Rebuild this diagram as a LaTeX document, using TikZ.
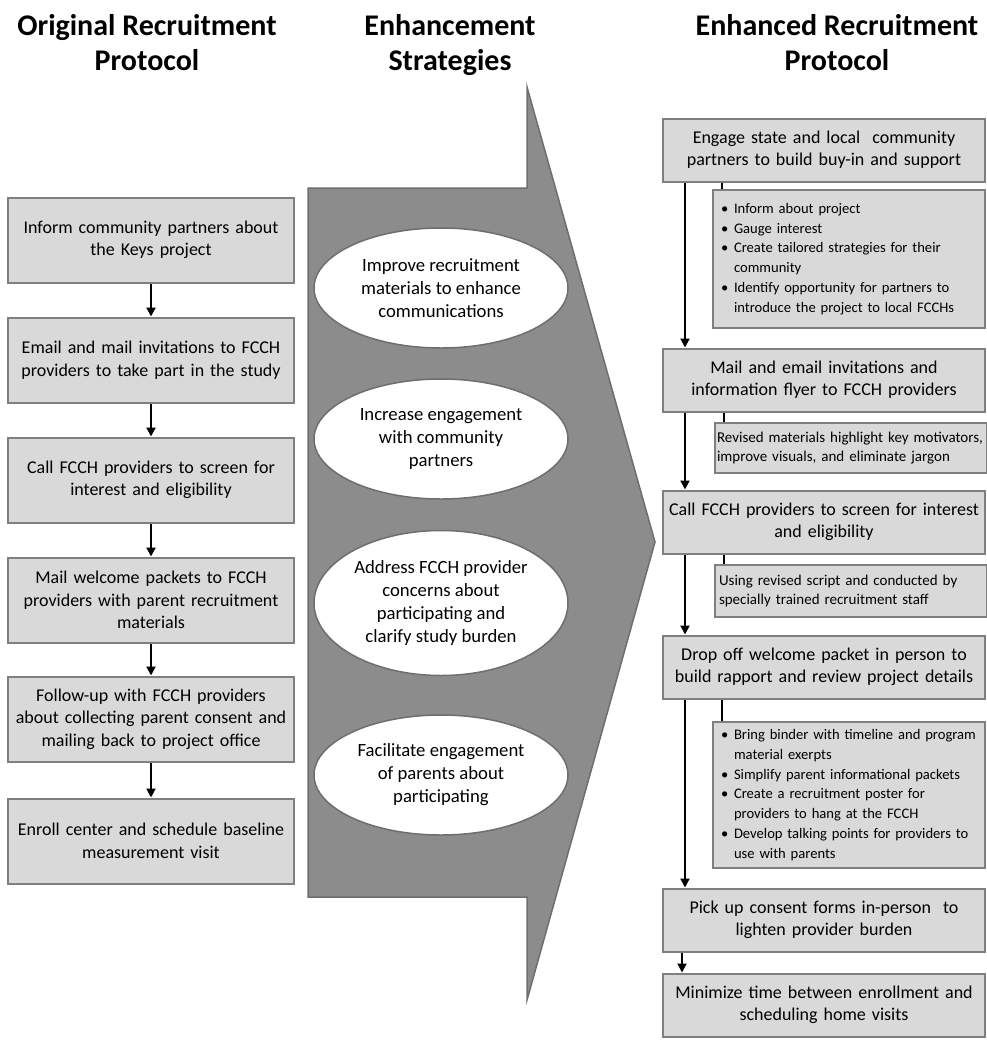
\documentclass[tikz,border=0pt]{standalone}
\usepackage{fontspec}
\setmainfont{Carlito}
\usepackage{xcolor}
\usetikzlibrary{arrows.meta,calc,shapes.geometric}

\definecolor{boxfill}{HTML}{D9D9D9}
\definecolor{boxline}{HTML}{7F7F7F}
\definecolor{arrowfill}{HTML}{8C8C8C}
\definecolor{arrowline}{HTML}{6E6E6E}

\newcommand{\bitem}[1]{\leftskip=4pt\hangindent=13pt\hangafter=1\noindent\makebox[13pt][l]{\textbullet}#1\par}

\tikzset{
  oldbox/.style={draw=boxline, line width=2pt, fill=boxfill, minimum width=286pt,
    minimum height=85pt, text width=284pt, align=center, inner sep=0pt,
    font=\fontsize{18}{22.5}\selectfont},
  newbox/.style={draw=boxline, line width=2pt, fill=boxfill, minimum width=322pt,
    minimum height=63pt, text width=322pt, align=center, inner sep=0pt,
    font=\fontsize{18}{22}\selectfont},
  notebox/.style={draw=boxline, line width=2pt, fill=boxfill, minimum width=272pt,
    text width=264pt, align=left, inner sep=0pt,
    font=\fontsize{14.6}{19.7}\selectfont},
  strat/.style={ellipse, draw=arrowline, line width=1.5pt, fill=white,
    minimum width=254pt, minimum height=120pt, inner sep=0pt, align=center,
    font=\fontsize{18.7}{23}\selectfont},
  heading/.style={font=\bfseries\fontsize{30}{35}\selectfont, align=center, anchor=north},
  flow/.style={line width=2pt, -{Triangle[width=9pt,length=9pt]}},
  stub/.style={line width=2pt}
}

\begin{document}
\begin{tikzpicture}[x=1pt,y=-1pt]
\useasboundingbox (0,0) rectangle (987,1042);

% headings
\node[heading] (h1) at (147,11) {Original Recruitment\\Protocol};
\node[heading] (h2) at (450,11) {Enhancement\\Strategies};
\node[heading] (h3) at (837,11) {Enhanced Recruitment\\Protocol};

% big arrow in the middle
\draw[fill=arrowfill, draw=arrowline, line width=1.5pt] (308,188) -- (527,188) -- (527,87)
  -- (655,542) -- (527,1000) -- (527,897) -- (308,897) -- cycle;

\node[strat] (e1) at (441,288) {Improve recruitment\\materials to enhance\\communications};
\node[strat] (e2) at (441,439) {Increase engagement\\with community\\partners};
\node[strat, minimum height=145pt] (e3) at (441,603) {Address FCCH provider\\concerns about\\participating and\\clarify study burden};
\node[strat] (e4) at (441,775) {Facilitate engagement\\of parents about\\participating};

% original protocol
\node[oldbox] (o1) at (151,240) {Inform community partners about\\the Keys project};
\node[oldbox] (o2) at (151,360) {Email and mail invitations to FCCH\\providers to take part in the study};
\node[oldbox] (o3) at (151,480) {Call FCCH providers to screen for\\interest and eligibility};
\node[oldbox] (o4) at (151,600) {Mail welcome packets to FCCH\\providers with parent recruitment\\materials};
\node[oldbox] (o5) at (151,719) {Follow-up with FCCH providers\\about collecting parent consent and\\mailing back to project office};
\node[oldbox] (o6) at (151,841) {Enroll center and schedule baseline\\measurement visit};
\draw[flow] (o1) -- (o2);
\draw[flow] (o2) -- (o3);
\draw[flow] (o3) -- (o4);
\draw[flow] (o4) -- (o5);
\draw[flow] (o5) -- (o6);

% enhanced protocol
\node[newbox] (n1) at (824,150) {Engage state and local\ \ community\\partners to build buy-in and support};
\node[newbox] (n2) at (824,380) {Mail and email invitations and\\information flyer to FCCH providers};
\node[newbox] (n3) at (824,522) {Call FCCH providers to screen for interest\\and eligibility};
\node[newbox] (n4) at (824,667) {Drop off welcome packet in person to\\build rapport and review project details};
\node[newbox] (n5) at (824,920) {Pick up consent forms in-person\ \ to\\lighten provider burden};
\node[newbox] (n6) at (824,1005) {Minimize time between enrollment and\\scheduling home visits};

\node[notebox, minimum height=138pt] (s1) at (849,259) {%
  \bitem{Inform about project}
  \bitem{Gauge interest}
  \bitem{Create tailored strategies for their\newline community}
  \bitem{Identify opportunity for partners to\newline introduce the project to local FCCHs}};
\node[notebox, minimum height=50pt, text width=268pt, font=\fontsize{15}{18.5}\selectfont] (s2) at (851,448)
  {Revised materials highlight key motivators,\\improve visuals, and eliminate jargon};
\node[notebox, minimum height=52pt, text width=264pt, font=\fontsize{15}{18.5}\selectfont] (s3) at (851,591)
  {Using revised script and conducted by\\specially trained recruitment staff};
\node[notebox, minimum height=146pt] (s4) at (849,795) {%
  \bitem{Bring binder with timeline and program\newline material exerpts}
  \bitem{Simplify parent informational packets}
  \bitem{Create a recruitment poster for\newline providers to hang at the FCCH}
  \bitem{Develop talking points for providers to\newline use with parents}};

\draw[flow] ([xshift=-139pt]n1.south) -- ([xshift=-139pt]n2.north);
\draw[flow] ([xshift=-139pt]n2.south) -- ([xshift=-139pt]n3.north);
\draw[flow] ([xshift=-139pt]n3.south) -- ([xshift=-139pt]n4.north);
\draw[flow] ([xshift=-139pt]n4.south) -- ([xshift=-139pt]n5.north);
\draw[flow] ([xshift=-142pt]n5.south) -- ([xshift=-142pt]n6.north);
\draw[stub] ([xshift=10pt]s1.north west) -- ([xshift=10pt]s1.north west |- n1.south);
\draw[stub] ([xshift=10pt]s2.north west) -- ([xshift=10pt]s2.north west |- n2.south);
\draw[stub] ([xshift=10pt]s3.north west) -- ([xshift=10pt]s3.north west |- n3.south);
\draw[stub] ([xshift=10pt]s4.north west) -- ([xshift=10pt]s4.north west |- n4.south);
\end{tikzpicture}
\end{document}
